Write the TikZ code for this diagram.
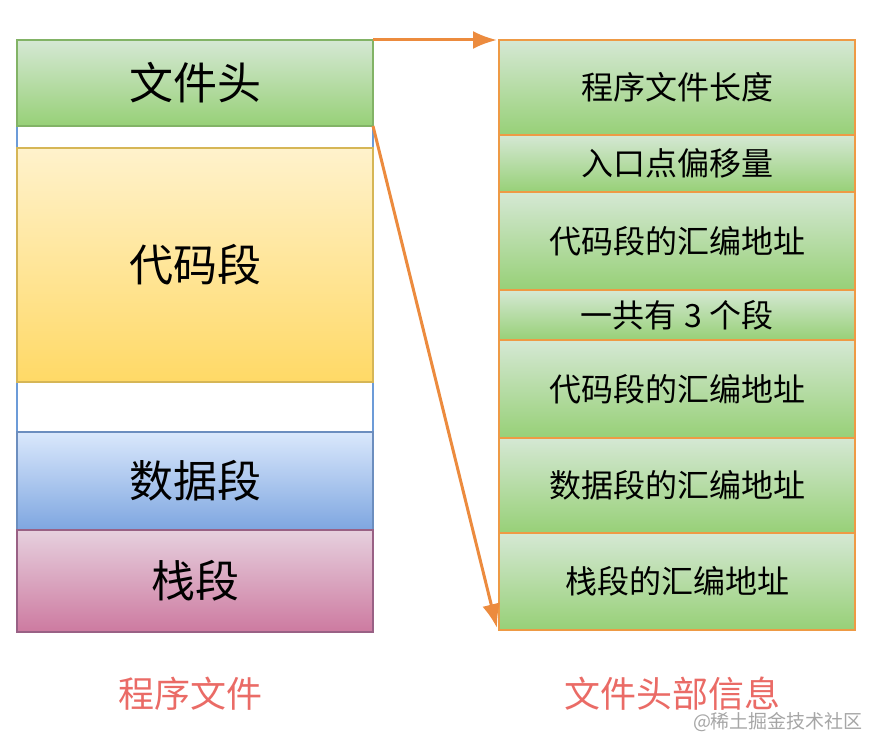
\documentclass[tikz,border=0pt]{standalone}
\usepackage{fontspec}
\setmainfont{Noto Sans CJK SC}
\usetikzlibrary{positioning,arrows.meta}

\definecolor{greentop}{HTML}{D5E8D4}
\definecolor{greenbot}{HTML}{97D077}
\definecolor{greenline}{HTML}{82B366}
\definecolor{yellowtop}{HTML}{FFF2CC}
\definecolor{yellowbot}{HTML}{FFD966}
\definecolor{yellowline}{HTML}{D6B656}
\definecolor{bluetop}{HTML}{DAE8FC}
\definecolor{bluebot}{HTML}{7EA6E0}
\definecolor{blueline}{HTML}{6C8EBF}
\definecolor{pinktop}{HTML}{E6D0DE}
\definecolor{pinkbot}{HTML}{CD7AA0}
\definecolor{pinkline}{HTML}{996185}
\definecolor{frameblue}{HTML}{6C9BD8}
\definecolor{infoline}{HTML}{EE9A45}
\definecolor{arrowline}{HTML}{EC8B3E}
\definecolor{capred}{HTML}{EA6B66}

\begin{document}
\begin{tikzpicture}[
    x=1pt, y=-1pt,
    seg/.style={rectangle, draw, line width=1.5pt, minimum width=356pt, inner sep=0pt, outer sep=0pt, font=\fontsize{44}{44}\selectfont},
    info/.style={rectangle, draw=infoline, line width=2pt, minimum width=356pt, inner sep=0pt, outer sep=0pt,
      top color=greentop, bottom color=greenbot, font=\fontsize{32}{32}\selectfont},
    link/.style={-{Latex[length=24pt,width=18pt]}, line width=3pt, draw=arrowline},
    caption/.style={text=capred, font=\fontsize{36}{36}\selectfont},
    node distance=0pt
  ]
    \useasboundingbox (0,0) rectangle (878,752);

    % Left: the program file
    \node[rectangle, draw=frameblue, line width=1.5pt, minimum width=356pt, minimum height=592pt, anchor=north west, outer sep=0pt] (prog) at (17,40) {};
    \node[seg, draw=greenline, top color=greentop, bottom color=greenbot, minimum height=86pt, anchor=north] (head) at (prog.north) {文件头};
    \node[seg, draw=yellowline, top color=yellowtop, bottom color=yellowbot, minimum height=234pt, below=22pt of head] (code) {代码段};
    \node[seg, draw=blueline, top color=bluetop, bottom color=bluebot, minimum height=98pt, below=50pt of code] (data) {数据段};
    \node[seg, draw=pinkline, top color=pinktop, bottom color=pinkbot, minimum height=102pt, below=of data] (stack) {栈段};

    % Right: the header fields
    \node[info, minimum height=95pt, anchor=north west] (len) at (499,40) {程序文件长度};
    \node[info, minimum height=57pt, below=of len] (entry) {入口点偏移量};
    \node[info, minimum height=98pt, below=of entry] (entryaddr) {代码段的汇编地址};
    \node[info, minimum height=50pt, below=of entryaddr] (count) {一共有 3 个段};
    \node[info, minimum height=98pt, below=of count] (codeaddr) {代码段的汇编地址};
    \node[info, minimum height=95pt, below=of codeaddr] (dataaddr) {数据段的汇编地址};
    \node[info, minimum height=97pt, below=of dataaddr] (stackaddr) {栈段的汇编地址};

    % Arrows
    \draw[link] (head.north east) -- ([xshift=-2pt]len.north west);
    \draw[link] (head.south east) -- ([xshift=-2pt,yshift=2pt]stackaddr.south west);

    % Captions
    \node[caption] (progcap) at (190,694) {程序文件};
    \node[caption] (infocap) at (672,694) {文件头部信息};
    \node[text=black!35, font=\fontsize{19}{19}\selectfont] (mark) at (778,722) {@稀土掘金技术社区};
\end{tikzpicture}
\end{document}
